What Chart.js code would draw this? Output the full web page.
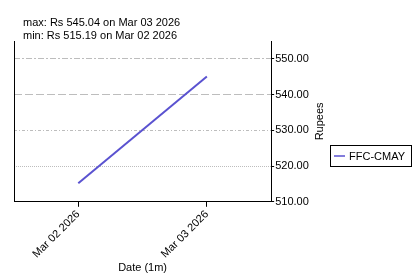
<!DOCTYPE html>
<html lang="en">
<head>
    <meta charset="UTF-8">
    <title>FFC-CMAY</title>
    <script src="https://cdn.jsdelivr.net/npm/chart.js"></script>
    <style>
        html, body { margin: 0; padding: 0; background: #fff; }
        #wrap { width: 415px; height: 275px; }
    </style>
</head>
<body>
<div id="wrap"><canvas id="priceChart" width="415" height="275"></canvas></div>

<script>
    const dates = ['Mar 02 2026', 'Mar 03 2026'];
    const prices = [515.19, 545.04];
    const seriesName = 'FFC-CMAY';
    const headerLines = ['max: Rs 545.04 on Mar 03 2026', 'min: Rs 515.19 on Mar 02 2026'];
    const yTicks = [510, 520, 530, 540, 550];

    const FONT = "'Liberation Sans', Arial, sans-serif";
    const lineColor = '#5a52d0';

    // dash style per gridline, like the original
    function gridDash(ctx) {
        if (!ctx.tick) return [];
        switch (ctx.tick.value) {
            case 550: return [6, 2, 2, 2];
            case 540: return [8, 3];
            case 530: return [3, 2, 1, 2];
            case 520: return [1, 1];
            default: return [];
        }
    }

    const extras = {
        id: 'extras',
        afterDraw(chart) {
            const c = chart.ctx;
            const area = chart.chartArea;
            c.save();
            c.fillStyle = '#000';
            c.font = '11px ' + FONT;
            c.textBaseline = 'alphabetic';
            c.textAlign = 'left';
            headerLines.forEach((t, i) => c.fillText(t, 23, 25.5 + i * 13.5));

            // y title, reading bottom to top
            const y = chart.scales.y;
            c.translate(y.right - 6, (area.top + area.bottom) / 2);
            c.rotate(-Math.PI / 2);
            c.textAlign = 'center';
            c.textBaseline = 'middle';
            c.fillText('Rupees', 0, 0);
            c.restore();

            // legend box
            c.save();
            const lx = 330, ly = 145;
            c.strokeStyle = '#000';
            c.lineWidth = 1;
            c.strokeRect(lx + 0.5, ly + 0.5, 81, 21);
            c.strokeStyle = lineColor;
            c.lineWidth = 1.5;
            c.beginPath();
            c.moveTo(lx + 4, ly + 11);
            c.lineTo(lx + 15, ly + 11);
            c.stroke();
            c.fillStyle = '#000';
            c.font = '11px ' + FONT;
            c.textBaseline = 'middle';
            c.fillText(chart.data.datasets[0].label, lx + 19, ly + 11.5);
            c.restore();
        }
    };

    new Chart(document.getElementById('priceChart'), {
        type: 'line',
        data: {
            labels: dates,
            datasets: [{
                label: seriesName,
                data: prices,
                borderColor: lineColor,
                borderWidth: 2,
                pointRadius: 0,
                tension: 0
            }]
        },
        options: {
            responsive: false,
            animation: false,
            layout: { padding: { top: 41, left: 14, right: 89, bottom: 0 } },
            plugins: {
                legend: { display: false },
                tooltip: { enabled: false }
            },
            scales: {
                x: {
                    type: 'category',
                    offset: true,
                    afterFit(scale) { scale.paddingLeft = 0; scale.paddingRight = 0; },
                    grid: { drawOnChartArea: false, drawTicks: true, tickLength: 5, tickColor: '#000' },
                    border: { color: '#000', width: 1 },
                    ticks: {
                        color: '#000', font: { family: FONT, size: 11 },
                        minRotation: 45, maxRotation: 45, padding: 1, autoSkip: false
                    },
                    title: { display: true, text: 'Date (1m)', color: '#000', font: { family: FONT, size: 11 }, padding: { top: 0, bottom: 0 } }
                },
                yl: {
                    position: 'left',
                    min: 510, max: 555,
                    afterFit(scale) { scale.width = 0; },
                    grid: { display: false },
                    ticks: { display: false },
                    border: { display: true, color: '#000', width: 1 }
                },
                y: {
                    position: 'right',
                    min: 510, max: 555,
                    afterBuildTicks(scale) { scale.ticks = yTicks.map(v => ({ value: v })); },
                    grid: {
                        color: ctx => (ctx.tick && ctx.tick.value === 510) ? 'rgba(0,0,0,0)' : '#bdbdbd',
                        drawTicks: true, tickLength: 3, tickColor: '#000'
                    },
                    border: { color: '#000', width: 1, dash: gridDash },
                    ticks: {
                        color: '#000', font: { family: FONT, size: 11 }, padding: 1,
                        callback: v => Number(v).toFixed(2)
                    },
                    title: { display: true, text: 'Rupees', color: 'rgba(0,0,0,0)', font: { family: FONT, size: 11 }, padding: { top: 3, bottom: 0 } }
                }
            }
        },
        plugins: [extras]
    });
</script>
</body>
</html>
